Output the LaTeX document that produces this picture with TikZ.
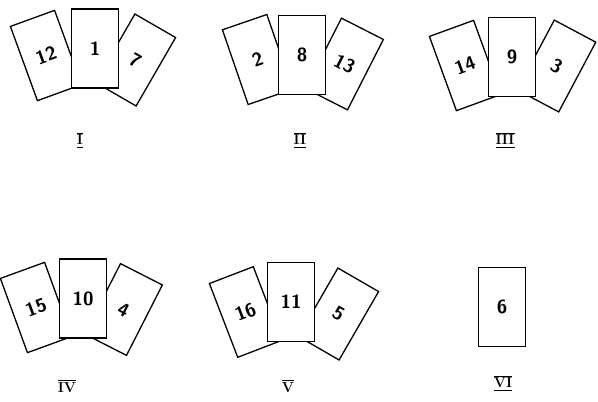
\documentclass[tikz,border=0pt]{standalone}
\usepackage{amsmath}
\usetikzlibrary{positioning}

\begin{document}
\begin{tikzpicture}[
    x=1pt, y=-1pt,
    card/.style={draw, line width=1.3pt, fill=white, minimum width=47pt, minimum height=79pt,
        inner sep=0pt, font=\sffamily\bfseries\fontsize{19}{21}\selectfont},
    grplabel/.style={font=\bfseries\fontsize{15}{17}\selectfont}
]
    \useasboundingbox (0,0) rectangle (598,402);

    % side cards first, the middle ones are laid over them
    \foreach \n/\x/\y/\a in {12/46/55.5/20, 7/135.5/60/-30,
                            2/257.5/59.5/19, 13/344.5/64/-27,
                            14/465/65.5/20, 3/556.5/66/-28,
                            15/36/307.5/20, 4/123.5/309.5/-27,
                            16/245.5/312/21, 5/338.5/314/-30}
        \node[card, rotate=\a] (card\n) at (\x,\y) {\n};
    \foreach \n/\x/\y in {1/95/48.5, 8/302/55, 9/512/57, 10/83/298.5, 11/291/302, 6/502/307}
        \node[card] (card\n) at (\x,\y) {\n};

    % group numbers
    \node[grplabel] (grpI)   at (80,140)  {$\underline{\overline{\mathbf{I}}}$};
    \node[grplabel] (grpII)  at (300,140) {$\underline{\overline{\mathbf{II}}}$};
    \node[grplabel] (grpIII) at (505,140) {$\underline{\overline{\mathbf{III}}}$};
    \node[grplabel] (grpIV)  at (67,386)  {$\overline{\mathbf{IV}}$};
    \node[grplabel] (grpV)   at (288,386) {$\overline{\mathbf{V}}$};
    \node[grplabel] (grpVI)  at (503,383) {$\underline{\overline{\mathbf{VI}}}$};
\end{tikzpicture}
\end{document}
